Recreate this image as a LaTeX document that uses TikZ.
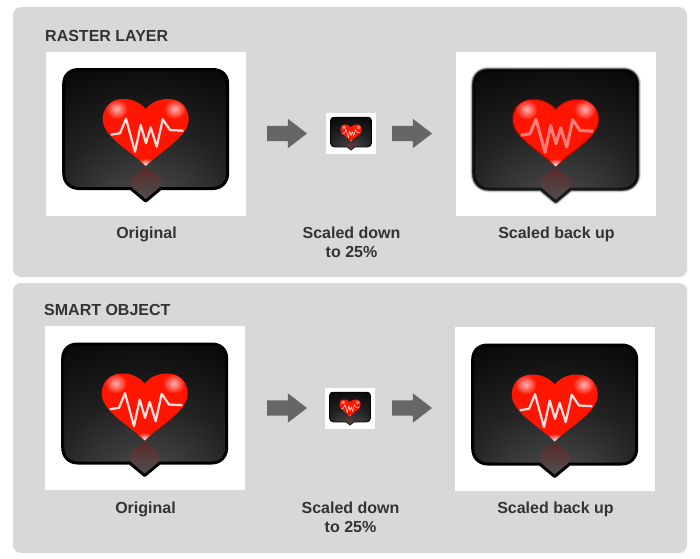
\documentclass[tikz,border=0pt]{standalone}
\usepackage{fontspec}
\setmainfont{Liberation Sans}
\usepackage{xcolor}
\usetikzlibrary{positioning,shapes.arrows}

\definecolor{panelgray}{HTML}{D8D8D8}
\definecolor{arrowgray}{HTML}{666666}
\definecolor{textgray}{HTML}{333333}
\definecolor{heartred}{HTML}{FF1500}

\pgfdeclareradialshading{bodyglow}{\pgfpoint{0bp}{-34bp}}{
	color(0bp)=(black!68!white);
	color(12bp)=(black!75!white);
	color(28bp)=(black!87!white);
	color(44bp)=(black!95!white);
	color(58bp)=(black);
	color(100bp)=(black)}

\tikzset{
	ecgline/.style={draw=white!88!red},
	heartedge/.style={},
	softedge/.style={draw=none},
	bubbleedge/.style={draw=black}
}

% speech bubble with the heart, drawn around its centre
\newcommand{\ecgicon}[3]{
	\begin{scope}[shift={#1},x=#2pt,y=-#2pt,#3]
		\def\bubblepath{(-67,-59.5) -- (67,-59.5) .. controls (76,-59.5) and (82,-54) .. (82,-45) -- (82,44) .. controls (82,53) and (76,59.5) .. (67,59.5) -- (15,59.5) -- (0,72) -- (-15,59.5) -- (-67,59.5) .. controls (-76,59.5) and (-82,53) .. (-82,44) -- (-82,-45) .. controls (-82,-54) and (-76,-59.5) .. (-67,-59.5) -- cycle}
		\def\heartpath{(0,-20) .. controls (-6,-27) and (-14,-30) .. (-22,-30) .. controls (-35,-30) and (-43,-21) .. (-43,-10) .. controls (-43,8) and (-15,22) .. (0,37) .. controls (15,22) and (43,8) .. (43,-10) .. controls (43,-21) and (35,-30) .. (22,-30) .. controls (14,-30) and (6,-27) .. (0,-20) -- cycle}
		\draw[softedge,opacity=.12,line width=6.5pt*#2,line join=round] \bubblepath;
		\draw[softedge,opacity=.18,line width=5pt*#2,line join=round] \bubblepath;
		\draw[softedge,opacity=.3,line width=3.5pt*#2,line join=round] \bubblepath;
		\draw[softedge,opacity=.45,line width=2pt*#2,line join=round] \bubblepath;
		\fill[black] \bubblepath;
		\path[shading=bodyglow] \bubblepath;
		\draw[line width=3pt*#2,line join=round,bubbleedge] \bubblepath;
		% reflection and tail
		\shade[top color=red!30!black!85,bottom color=black!68,opacity=.75] (0,39) .. controls (-7,42) and (-13,47) .. (-16,52) -- (-13,59) -- (0,70) -- (13,59) -- (16,52) .. controls (13,47) and (7,42) .. (0,39) -- cycle;
		% heart
		\fill[heartred,heartedge] \heartpath;
		\begin{scope}
			\clip \heartpath;
			\shade[inner color=white!70!red,outer color=heartred] (-29,-20) ellipse (11 and 10);
			\shade[inner color=white!70!red,outer color=heartred] (29,-20) ellipse (11 and 10);
			\shade[inner color=white!85!red,outer color=heartred] (0,35) ellipse (9 and 6);
		\end{scope}
		\draw[line width=2.2pt*#2,line join=round,ecgline] (-35,5.7) -- (-25.7,4.3) -- (-19.7,-10.3) -- (-10.7,22.7) -- (-5,-4) -- (.3,14.3) -- (5,-1.7) -- (11,17.7) -- (17,-9.7) -- (24.3,1) -- (37.7,1.7);
	\end{scope}
}

\begin{document}
\begin{tikzpicture}[
		x=1pt, y=-1pt,
		panel/.style={rectangle, fill=panelgray, rounded corners=8pt, minimum width=674pt, minimum height=270pt, inner sep=0pt},
		imagebox/.style={rectangle, fill=white, inner sep=0pt, minimum width=200pt, minimum height=164pt},
		smallbox/.style={rectangle, fill=white, inner sep=0pt, minimum width=50pt, minimum height=41pt},
		fatarrow/.style={single arrow, fill=arrowgray, minimum height=40pt, inner xsep=0pt, inner ysep=7.5pt, single arrow head extend=7pt, single arrow tip angle=75},
		title/.style={font=\fontsize{16}{19}\selectfont\bfseries, text=textgray, anchor=west, inner sep=0pt},
		caption/.style={font=\fontsize{16}{19}\selectfont\bfseries, text=textgray, align=center, inner sep=0pt, anchor=north, xshift=.5pt},
		blurred/.style={ecgline/.style={draw=white!60!red,opacity=.8,line width=3pt}, softedge/.style={draw=black}, bubbleedge/.style={draw=black,draw opacity=.6}, heartedge/.style={draw=red!70!black,draw opacity=.35,line width=2pt}}
	]
	\useasboundingbox (0,0) rectangle (700,558);

	% raster layer
	\node (rasterpanel) [panel] at (350,142) {};
	\node (rastertitle) [title] at (45,36) {RASTER LAYER};
	\node (rasterorig) [imagebox] at (146,134) {};
	\node (rastersmall) [smallbox] at (351,133.5) {};
	\node (rasterback) [imagebox] at (556,133.5) {};
	\node (rasterarrowa) [fatarrow] at (282,133.5) {};
	\node (rasterarrowb) [fatarrow] at (407,133.5) {};
	\ecgicon{(145.7,129)}{1}{}
	\ecgicon{(351,132)}{.25}{}
	\ecgicon{(555.7,129.5)}{1}{blurred}
	\node (rasterorigtext) [caption, below=10pt of rasterorig] {Original};
	\node (rastersmalltext) [caption] at (rastersmall |- rasterorigtext.north) {Scaled down\\to 25\%};
	\node (rasterbacktext) [caption] at (rasterback |- rasterorigtext.north) {Scaled back up};

	% smart object
	\node (smartpanel) [panel] at (350,418) {};
	\node (smarttitle) [title] at (44,310) {SMART OBJECT};
	\node (smartorig) [imagebox] at (145,408) {};
	\node (smartsmall) [smallbox] at (350,408.5) {};
	\node (smartback) [imagebox] at (555,409) {};
	\node (smartarrowa) [fatarrow] at (282,408) {};
	\node (smartarrowb) [fatarrow] at (407,408) {};
	\ecgicon{(144.7,403.5)}{1}{}
	\ecgicon{(350,407)}{.25}{}
	\ecgicon{(554.7,404.5)}{1}{}
	\node (smartorigtext) [caption, below=11pt of smartorig] {Original};
	\node (smartsmalltext) [caption] at (smartsmall |- smartorigtext.north) {Scaled down\\to 25\%};
	\node (smartbacktext) [caption] at (smartback |- smartorigtext.north) {Scaled back up};
\end{tikzpicture}
\end{document}
